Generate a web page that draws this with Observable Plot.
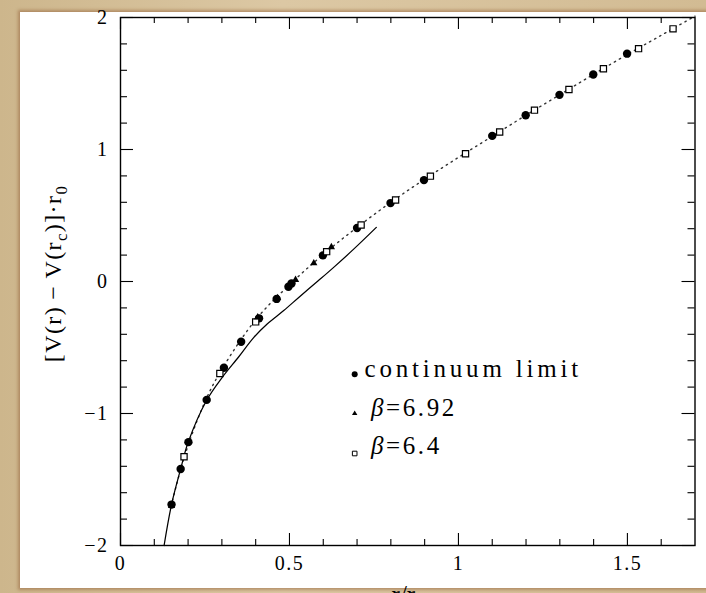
<!DOCTYPE html>
<html><head><meta charset="utf-8">
<script src="https://cdn.jsdelivr.net/npm/d3@7"></script>
<script src="https://cdn.jsdelivr.net/npm/@observablehq/plot@0.6"></script>
<style>
html,body{margin:0;padding:0;background:#d5c09a;}
#wrap{position:relative;width:706px;height:593px;overflow:hidden;background:linear-gradient(90deg,#cdb68c,#dcc8a4 40%,#d2bb93);}
#paper{position:absolute;left:20px;top:12px;width:700px;height:576px;background:#fff;box-shadow:0 0 3px 2px rgba(150,100,60,0.55);}
#chart{position:absolute;left:0;top:0;}
#chart svg text{font-family:'Liberation Serif', serif;}
</style></head><body>
<div id="wrap"><div id="paper"></div><div id="chart"></div></div>
<script>
// ---- data ----
const contX = [0.151,0.178,0.201,0.255,0.306,0.357,0.410,0.462,0.497,0.506,0.599,0.700,0.799,0.898,1.100,1.199,1.299,1.399,1.499];
const contY = [-1.690,-1.420,-1.217,-0.897,-0.653,-0.456,-0.279,-0.132,-0.040,-0.015,0.198,0.405,0.594,0.768,1.103,1.260,1.414,1.568,1.726];

const b692X = [0.151,0.406,0.465,0.518,0.572,0.624];
const b692Y = [-1.700,-0.270,-0.125,0.013,0.139,0.261];

const b64X = [0.188,0.294,0.400,0.610,0.712,0.814,0.917,1.021,1.122,1.225,1.327,1.429,1.533,1.635];
const b64Y = [-1.328,-0.697,-0.306,0.226,0.428,0.618,0.798,0.968,1.133,1.298,1.455,1.612,1.764,1.914];

const fitX = [0.150,0.190,0.250,0.300,0.400,0.500,0.600,0.700,0.800,0.900,1.000,1.100,1.200,1.300,1.400,1.500,1.600,1.700];
const fitY = [-1.700,-1.320,-0.910,-0.665,-0.290,-0.025,0.205,0.410,0.600,0.775,0.940,1.100,1.260,1.415,1.570,1.720,1.865,2.010];

const solidX = [0.129,0.151,0.178,0.200,0.255,0.300,0.350,0.394,0.434,0.483,0.530,0.585,0.630,0.690,0.757];
const solidY = [-2.000,-1.690,-1.420,-1.220,-0.900,-0.730,-0.570,-0.425,-0.322,-0.220,-0.115,0.005,0.105,0.245,0.410];

const xMajor = [0, 0.5, 1, 1.5];
const xMinor = [0.1,0.2,0.3,0.4,0.6,0.7,0.8,0.9,1.1,1.2,1.3,1.4,1.6];
const yMajor = [-2, -1, 0, 1, 2];
const yMinor = [-1.8,-1.6,-1.4,-1.2,-0.8,-0.6,-0.4,-0.2,0.2,0.4,0.6,0.8,1.2,1.4,1.6,1.8];

const legendLabels = ["continuum limit", "β=6.92", "β=6.4"];
const yTitle = "[V(r)\u2009−\u2009V(r_c)]·r_0";
const xTitle = "r/r_0";

// ---- tables ----
const cont = contX.map((x,i)=>({x, y:contY[i]}));
const b692 = b692X.map((x,i)=>({x, y:b692Y[i]}));
const b64 = b64X.map((x,i)=>({x, y:b64Y[i]}));
const fit = fitX.map((x,i)=>({x, y:fitY[i]}));
const solid = solidX.map((x,i)=>({x, y:solidY[i]}));

// ---- layout ----
const W = 706, H = 593, mL = 120, mR = 11.5, mT = 17, mB = 48;
const innerH = H - mT - mB, innerW = W - mL - mR;
const serif = "'Liberation Serif', serif";
const fmt = d => String(d).replace("-", "−");

// legend layout (data coordinates inside the frame)
const legMarkX = 0.693, legMarkY = [-0.702, -1.000, -1.303];
const legTextX = [0.722, 0.741, 0.741], legTextY = [-0.662, -0.958, -1.245];
const legend = legendLabels.map((t,i)=>({t, mx:legMarkX, my:legMarkY[i], tx:legTextX[i], ty:legTextY[i]}));

const plot = Plot.plot({
  width: W, height: H,
  marginLeft: mL, marginRight: mR, marginTop: mT, marginBottom: mB,
  x: {domain: [0, 1.7]},
  y: {domain: [-2, 2]},
  style: {background: "none", fontFamily: serif, fontSize: "19px", color: "#000"},
  marks: [
    Plot.line(fit, {x: "x", y: "y", stroke: "#333", strokeWidth: 1.4, strokeDasharray: "1.4,4.4", curve: "catmull-rom"}),
    Plot.line(solid, {x: "x", y: "y", stroke: "#000", strokeWidth: 1.25, curve: "catmull-rom"}),
    Plot.dot(cont, {x: "x", y: "y", r: 4.2, fill: "#000", stroke: "none"}),
    Plot.dot(b64, {x: "x", y: "y", symbol: "square", r: 3.5, fill: "#fff", stroke: "#000", strokeWidth: 1.2}),
    Plot.dot(b692, {x: "x", y: "y", symbol: "triangle", r: 2.7, fill: "#000", stroke: "none"}),
    // inward ticks, bottom & top
    Plot.tickX(xMajor, {x: d => d, insetTop: innerH - 12, stroke: "#000", strokeWidth: 1.1}),
    Plot.tickX(xMajor, {x: d => d, insetBottom: innerH - 12, stroke: "#000", strokeWidth: 1.1}),
    Plot.tickX(xMinor, {x: d => d, insetTop: innerH - 6, stroke: "#000", strokeWidth: 1.1}),
    Plot.tickX(xMinor, {x: d => d, insetBottom: innerH - 6, stroke: "#000", strokeWidth: 1.1}),
    // inward ticks, left & right
    Plot.tickY(yMajor, {y: d => d, insetRight: innerW - 13, stroke: "#000", strokeWidth: 1.1}),
    Plot.tickY(yMajor, {y: d => d, insetLeft: innerW - 13, stroke: "#000", strokeWidth: 1.1}),
    Plot.tickY(yMinor, {y: d => d, insetRight: innerW - 7, stroke: "#000", strokeWidth: 1.1}),
    Plot.tickY(yMinor, {y: d => d, insetLeft: innerW - 7, stroke: "#000", strokeWidth: 1.1}),
    Plot.frame({stroke: "#000", strokeWidth: 1.4}),
    Plot.axisX({ticks: xMajor, tickSize: 0, tickPadding: 10, tickFormat: fmt, label: null, fontSize: 20, fontFamily: serif}),
    Plot.axisY({ticks: yMajor, tickSize: 0, tickPadding: 12, tickFormat: fmt, label: null, fontSize: 20, fontFamily: serif}),
    // legend
    Plot.dot(legend.slice(0,1), {x: "mx", y: "my", r: 3, fill: "#000", stroke: "none"}),
    Plot.dot(legend.slice(1,2), {x: "mx", y: "my", symbol: "triangle", r: 2, fill: "#000", stroke: "none"}),
    Plot.dot(legend.slice(2,3), {x: "mx", y: "my", symbol: "square", r: 2.6, fill: "#fff", stroke: "#000", strokeWidth: 1}),
    Plot.text(legend, {x: "tx", y: "ty", text: "t", textAnchor: "start", fontSize: 25, fontFamily: serif, fill: "#000"}),
    // axis titles
    Plot.text([yTitle], {text: d => d, frameAnchor: "left", textAnchor: "middle", dx: -67, dy: -8, rotate: -90, fontSize: 24, fontFamily: serif, fill: "#000"}),
    Plot.text([xTitle], {text: d => d, frameAnchor: "bottom", textAnchor: "middle", dy: 40, lineAnchor: "top", fontSize: 25, fontFamily: serif, fill: "#000"})
  ]
});
document.getElementById("chart").appendChild(plot);

// typographic touches: subscripts, italic beta, letter spacing
const svg = d3.select(plot);
svg.selectAll("text").each(function() {
  const node = this;
  const s = node.textContent;
  if (s.includes("_")) {
    node.textContent = "";
    const parts = s.split(/(_\w)/).filter(p => p);
    let shift = 0;
    for (const p of parts) {
      const t = d3.select(node).append("tspan");
      if (p[0] === "_") {
        t.attr("font-size", "70%").attr("dy", 6).text(p.slice(1));
        shift = -6;
      } else {
        if (shift) t.attr("dy", shift);
        shift = 0;
        t.text(p);
      }
    }
    if (s === yTitle) d3.select(node).style("letter-spacing", "1.4px");
  } else if (s.startsWith("β")) {
    node.textContent = "";
    d3.select(node).append("tspan").attr("font-style", "italic").text("β");
    d3.select(node).append("tspan").text(s.slice(1));
    d3.select(node).style("letter-spacing", "2.6px");
  } else if (s === "continuum limit") {
    d3.select(node).style("letter-spacing", "3.8px");
  }
});
svg.selectAll("[aria-label^='x-axis tick label'] text, [aria-label^='y-axis tick label'] text").style("letter-spacing", "1.5px");
</script>
</body></html>
